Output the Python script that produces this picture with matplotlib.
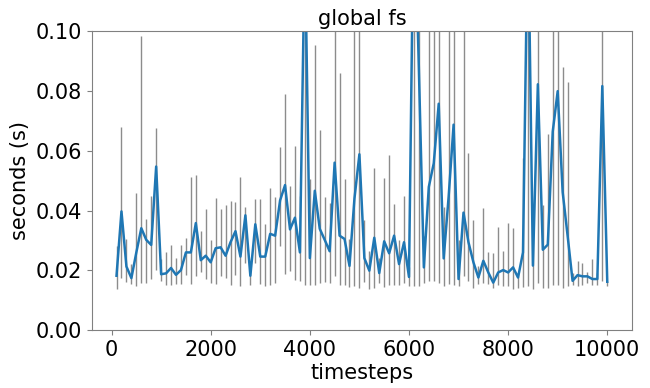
#!/usr/bin/env python3
"""global fs timing per timestep, with min/max range bars."""

import matplotlib

matplotlib.use("Agg")
import matplotlib.pyplot as plt
import numpy as np

timesteps = list(range(100, 10001, 100))

mean_s = [
    0.0182, 0.0397, 0.0213, 0.0174, 0.0260, 0.0341, 0.0302, 0.0285, 0.0547, 0.0187,
    0.0190, 0.0208, 0.0185, 0.0201, 0.0260, 0.0260, 0.0358, 0.0234, 0.0249, 0.0227,
    0.0274, 0.0277, 0.0249, 0.0294, 0.0331, 0.0246, 0.0384, 0.0182, 0.0354, 0.0246,
    0.0246, 0.0322, 0.0316, 0.0434, 0.0485, 0.0337, 0.0376, 0.0260, 0.1300, 0.0241,
    0.0466, 0.0339, 0.0302, 0.0264, 0.0560, 0.0316, 0.0305, 0.0215, 0.0440, 0.0588,
    0.0241, 0.0199, 0.0309, 0.0191, 0.0297, 0.0257, 0.0316, 0.0221, 0.0294, 0.0178,
    0.1500, 0.0870, 0.0210, 0.0479, 0.0558, 0.0757, 0.0240, 0.0446, 0.0687, 0.0171,
    0.0393, 0.0294, 0.0227, 0.0176, 0.0232, 0.0193, 0.0159, 0.0193, 0.0201, 0.0193,
    0.0210, 0.0176, 0.0260, 0.1400, 0.0216, 0.0822, 0.0269, 0.0286, 0.0664, 0.0799,
    0.0462, 0.0316, 0.0165, 0.0184, 0.0180, 0.0180, 0.0171, 0.0171, 0.0816, 0.0162,
]

upper_s = [
    0.0280, 0.0678, 0.0305, 0.0220, 0.0457, 0.0984, 0.0373, 0.0448, 0.0676, 0.0238,
    0.0260, 0.0285, 0.0240, 0.0285, 0.0308, 0.0511, 0.0519, 0.0333, 0.0406, 0.0300,
    0.0443, 0.0404, 0.0417, 0.0432, 0.0429, 0.0511, 0.0412, 0.0200, 0.0440, 0.0437,
    0.0356, 0.0474, 0.0446, 0.0614, 0.0790, 0.0483, 0.0616, 0.0450, 0.2000, 0.0507,
    0.0954, 0.0670, 0.0446, 0.0424, 0.1500, 0.0861, 0.0507, 0.0305, 0.1500, 0.1500,
    0.0369, 0.0264, 0.0541, 0.0240, 0.0510, 0.0586, 0.0423, 0.0302, 0.0449, 0.0210,
    0.2000, 0.1500, 0.0315, 0.1500, 0.1500, 0.1500, 0.0412, 0.1500, 0.1500, 0.0300,
    0.1500, 0.0591, 0.0370, 0.0215, 0.0409, 0.0260, 0.0257, 0.0345, 0.0264, 0.0358,
    0.0340, 0.0190, 0.0577, 0.2000, 0.0400, 0.1500, 0.0420, 0.0657, 0.1500, 0.1500,
    0.0881, 0.0829, 0.0190, 0.0232, 0.0225, 0.0193, 0.0238, 0.0190, 0.1500, 0.0165,
]

lower_s = [
    0.0139, 0.0176, 0.0162, 0.0153, 0.0148, 0.0157, 0.0159, 0.0171, 0.0201, 0.0165,
    0.0150, 0.0152, 0.0153, 0.0153, 0.0184, 0.0153, 0.0182, 0.0195, 0.0171, 0.0159,
    0.0153, 0.0180, 0.0174, 0.0150, 0.0184, 0.0148, 0.0224, 0.0150, 0.0224, 0.0153,
    0.0148, 0.0150, 0.0157, 0.0283, 0.0187, 0.0199, 0.0169, 0.0165, 0.0150, 0.0150,
    0.0150, 0.0157, 0.0162, 0.0157, 0.0182, 0.0150, 0.0150, 0.0145, 0.0148, 0.0142,
    0.0162, 0.0139, 0.0142, 0.0159, 0.0145, 0.0150, 0.0150, 0.0150, 0.0159, 0.0148,
    0.0148, 0.0148, 0.0159, 0.0166, 0.0166, 0.0159, 0.0148, 0.0153, 0.0150, 0.0148,
    0.0180, 0.0166, 0.0142, 0.0153, 0.0159, 0.0153, 0.0142, 0.0150, 0.0148, 0.0148,
    0.0139, 0.0142, 0.0145, 0.0148, 0.0139, 0.0157, 0.0142, 0.0142, 0.0150, 0.0150,
    0.0142, 0.0148, 0.0150, 0.0148, 0.0150, 0.0159, 0.0150, 0.0150, 0.0166, 0.0148,
]

FONT = 15

x = np.array(timesteps)
y = np.array(mean_s)
yerr = [y - np.array(lower_s), np.array(upper_s) - y]

fig = plt.figure(figsize=(6.5, 3.88), dpi=100)
ax = fig.add_axes([0.1415, 0.149, 0.8305, 0.771])
ax.errorbar(x, y, yerr=yerr, color="#1f77b4", linewidth=1.8,
            ecolor="#8c8c8c", elinewidth=1.0, capsize=0)
ax.set_ylim(0, 0.1)
ax.set_yticks([0.0, 0.02, 0.04, 0.06, 0.08, 0.10])
ax.set_title("global fs", fontsize=FONT, pad=4)
ax.set_xlabel("timesteps", fontsize=FONT, labelpad=2)
ax.set_ylabel("seconds (s)", fontsize=FONT)
ax.tick_params(labelsize=FONT, color="#808080")
for spine in ax.spines.values():
    spine.set_color("#808080")

fig.savefig("out.png", dpi=100)
